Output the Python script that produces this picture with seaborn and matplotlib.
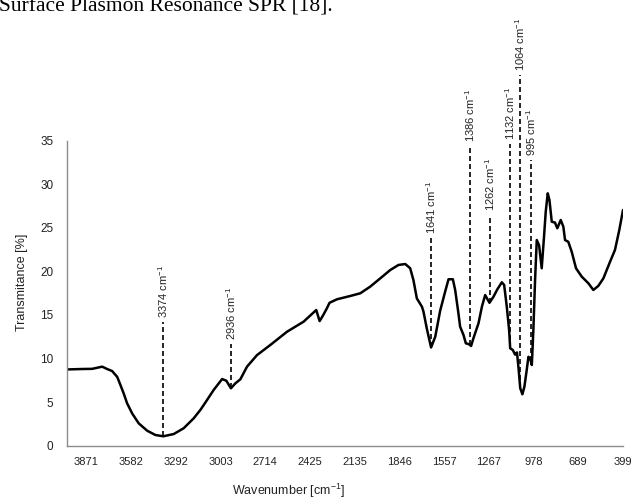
import numpy as np
import pandas as pd
import matplotlib
matplotlib.use("Agg")
import matplotlib.pyplot as plt
import seaborn as sns

# FTIR spectrum (wavenumber in cm-1, transmittance in %)
wavenumber = [4000, 3900, 3834, 3769, 3737, 3705, 3672, 3651, 3630, 3608, 3575, 3533,
              3478, 3425, 3374, 3306, 3242, 3177, 3134, 3112, 3048, 2993, 2966, 2936,
              2907, 2875, 2832, 2767, 2681, 2573, 2466, 2384, 2362, 2340, 2315, 2298,
              2250, 2164, 2099, 2035, 1970, 1905, 1852, 1808, 1776, 1755, 1733, 1700,
              1690, 1668, 1641, 1614, 1582, 1550, 1528, 1500, 1485, 1464, 1453, 1431,
              1416, 1395, 1382, 1367, 1334, 1312, 1291, 1263, 1237, 1212, 1183, 1168,
              1151, 1136, 1129, 1112, 1097, 1085, 1074, 1064, 1050, 1037, 1022, 1011,
              1000, 989, 979, 968, 957, 942, 925, 910, 899, 886, 875, 860, 839, 824,
              802, 785, 774, 753, 731, 703, 666, 623, 591, 559, 526, 483, 451, 423,
              407, 399]
transmittance = [8.75, 8.8, 8.82, 9.07, 8.8, 8.57, 7.9, 6.97, 6.0, 4.87, 3.7, 2.57,
                 1.72, 1.23, 1.08, 1.34, 2.0, 3.14, 4.1, 4.67, 6.39, 7.65, 7.46, 6.59,
                 7.16, 7.62, 9.07, 10.4, 11.56, 13.08, 14.23, 15.57, 14.3, 14.95, 15.77, 16.4,
                 16.8, 17.18, 17.49, 18.25, 19.2, 20.16, 20.74, 20.85, 20.36, 19.0, 16.9, 15.95,
                 15.38, 13.4, 11.27, 12.5, 15.5, 17.67, 19.1, 19.1, 17.87, 15.2, 13.66, 12.7,
                 11.75, 11.64, 11.44, 12.32, 14.05, 15.95, 17.29, 16.4, 17.1, 17.95, 18.75, 18.44,
                 15.95, 13.28, 11.18, 10.98, 10.45, 10.7, 8.7, 6.6, 5.9, 6.77, 8.69, 10.2,
                 10.03, 9.26, 13.28, 19.0, 23.6, 23.0, 20.36, 24.0, 26.85, 28.96, 28.2, 25.7,
                 25.6, 24.95, 25.9, 25.13, 23.6, 23.4, 22.26, 20.36, 19.4, 18.64, 17.87, 18.33,
                 19.2, 21.1, 22.46, 24.75, 26.28, 27.05]

# Assigned absorption bands
band_wavenumbers = [3374, 2936, 1641, 1386, 1262, 1132, 1064, 995]

# Axis tick labels
x_ticks = [3871, 3582, 3292, 3003, 2714, 2425, 2135, 1846, 1557, 1267, 978, 689, 399]
y_ticks = [0, 5, 10, 15, 20, 25, 30, 35]

# Height (in % units) where each band marker ends and its label starts
marker_tops = {3374: 14.2, 2936: 11.7, 1641: 23.9, 1386: 34.4,
               1262: 26.5, 1132: 34.6, 1064: 42.5, 995: 32.8}

sns.set_style("white")
plt.rcParams["font.family"] = ["Liberation Sans", "DejaVu Sans"]
plt.rcParams["mathtext.fontset"] = "custom"
plt.rcParams["mathtext.rm"] = "Liberation Sans"
plt.rcParams["mathtext.it"] = "Liberation Sans:italic"
plt.rcParams["mathtext.bf"] = "Liberation Sans:bold"

W, H = 634, 500
fig = plt.figure(figsize=(W / 100, H / 100), dpi=100)
left, right, top, bottom = 66.5, 623, 140.7, 445.7
ax = fig.add_axes([left / W, 1 - bottom / H, (right - left) / W, (bottom - top) / H])

df = pd.DataFrame({"Wavenumber": wavenumber, "Transmittance": transmittance})
sns.lineplot(data=df, x="Wavenumber", y="Transmittance", ax=ax, color="black",
             lw=1.8, sort=False, estimator=None)

ax.set_xlim(4000, 399)
ax.set_ylim(0, 35)
ax.set_xticks(x_ticks)
ax.set_xticklabels([str(t) for t in x_ticks])
ax.set_yticks(y_ticks)
ax.set_yticklabels([str(t) for t in y_ticks])

for side in ("top", "right"):
    ax.spines[side].set_visible(False)
for side in ("left", "bottom"):
    ax.spines[side].set_color("#8c8c8c")
    ax.spines[side].set_linewidth(1.0)

ax.tick_params(axis="x", direction="in", length=3.5, width=1.0, color="#8c8c8c",
               pad=8, labelsize=8, labelcolor="#222222")
ax.tick_params(axis="y", direction="out", length=3.6, width=1.0, color="#8c8c8c",
               pad=6, labelsize=8.5, labelcolor="#222222")

ax.set_xlabel("Wavenumber [cm$^{-1}$]", fontsize=9, color="#222222", va="center")
ax.xaxis.set_label_coords((289 - left) / (right - left), (bottom - 491) / (bottom - top))
ax.set_ylabel("Transmitance [%]", fontsize=9, color="#222222", va="center")
ax.yaxis.set_label_coords((22 - left) / (right - left), (bottom - 282) / (bottom - top))

# Dashed band markers with rotated labels
wn_asc = np.array(wavenumber[::-1], dtype=float)
tr_asc = np.array(transmittance[::-1], dtype=float)
for wn in band_wavenumbers:
    y0 = float(np.interp(wn, wn_asc, tr_asc))
    y1 = marker_tops[wn]
    ax.plot([wn, wn], [y0, y1], color="black", lw=1.2, ls=(0, (3.0, 1.8)),
            clip_on=False, zorder=3)
    ax.text(wn, y1 + 0.45, f"{wn} cm$^{{-1}}$", rotation=90, ha="center", va="bottom",
            fontsize=8, color="#222222", clip_on=False)

# Running text of the surrounding page
fig.text(-1 / W, 1 - 11.5 / H, "Surface Plasmon Resonance SPR [18].",
         family="Liberation Serif", fontsize=15.5, color="black",
         ha="left", va="baseline")

fig.savefig("out.png", dpi=100)
